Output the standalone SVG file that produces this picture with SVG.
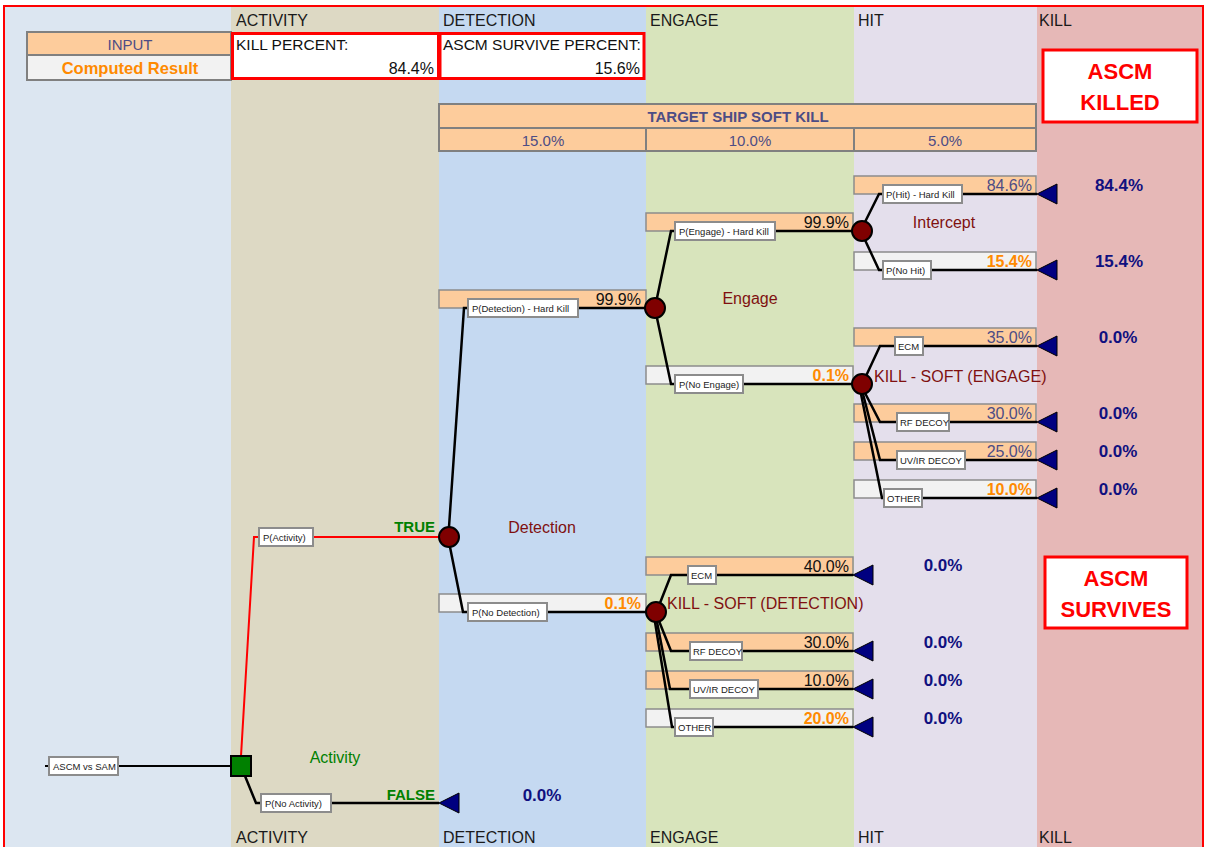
<svg xmlns="http://www.w3.org/2000/svg" width="1209" height="847" viewBox="0 0 1209 847">
<defs>
<style>
text{font-family:"Liberation Sans",Arial,sans-serif}
.hdr{font-size:16px;fill:#1a1a1a}
.bo{fill:#FDCC9C;stroke:#8C8C8C;stroke-width:1.5}
.bg{fill:#F2F2F2;stroke:#8C8C8C;stroke-width:1.5}
.lr{fill:#fff;stroke:#8C8C8C;stroke-width:2}
.lt{font-size:9.5px;fill:#222}
.ln{stroke:#000;stroke-width:2.5;fill:none}
.ch{fill:#7F0000;stroke:#000;stroke-width:2}
.tm{fill:#000080;stroke:#000;stroke-width:1}
.pk{font-size:16px;text-anchor:end;fill:#111}
.ps{font-size:16px;text-anchor:end;fill:#4D4D85}
.po{font-size:16px;text-anchor:end;fill:#FF8A00;font-weight:bold}
.val{font-size:17px;font-weight:bold;fill:#10107F;text-anchor:middle}
.dr{font-size:16px;fill:#7F1010}
.tf{font-size:15px;font-weight:bold;fill:#008000;text-anchor:end}
.big{font-size:22px;font-weight:bold;fill:#FF0000;text-anchor:middle}
</style>
</defs>
<rect x="0" y="0" width="1209" height="847" fill="#fff"/>
<g id="columns">
<rect x="4" y="6" width="227" height="841" fill="#DCE6F1"/>
<rect x="231" y="6" width="208" height="841" fill="#DDD9C4"/>
<rect x="439" y="6" width="207" height="841" fill="#C5D9F1"/>
<rect x="646" y="6" width="208" height="841" fill="#D8E4BC"/>
<rect x="854" y="6" width="183" height="841" fill="#E4DFEC"/>
<rect x="1037" y="6" width="166" height="841" fill="#E6B8B7"/>
<polyline points="4,847 4,6 1203,6 1203,847" fill="none" stroke="#FF0000" stroke-width="2"/>
</g>
<g id="headers">
<text x="236" y="26" class="hdr">ACTIVITY</text>
<text x="443" y="26" class="hdr">DETECTION</text>
<text x="650" y="26" class="hdr">ENGAGE</text>
<text x="858" y="26" class="hdr">HIT</text>
<text x="1039" y="26" class="hdr">KILL</text>
<text x="236" y="843" class="hdr">ACTIVITY</text>
<text x="443" y="843" class="hdr">DETECTION</text>
<text x="650" y="843" class="hdr">ENGAGE</text>
<text x="858" y="843" class="hdr">HIT</text>
<text x="1039" y="843" class="hdr">KILL</text>
</g>
<g id="input-table">
<rect x="27" y="32" width="204" height="23" fill="#FDCC9C" stroke="#808080" stroke-width="2"/>
<rect x="27" y="55" width="204" height="25" fill="#F2F2F2" stroke="#808080" stroke-width="2"/>
<text x="130" y="50" font-size="15" fill="#4D4D85" text-anchor="middle">INPUT</text>
<text x="130" y="74" font-size="16.5" font-weight="bold" fill="#FF8A00" text-anchor="middle">Computed Result</text>
</g>
<g id="kill-percent">
<rect x="232.5" y="33.5" width="206" height="45" fill="#fff" stroke="#FF0000" stroke-width="3"/>
<text x="236" y="50" font-size="15.5" fill="#111">KILL PERCENT:</text>
<text x="434" y="74" class="pk">84.4%</text>
</g>
<g id="survive-percent">
<rect x="440" y="33.5" width="204" height="45" fill="#fff" stroke="#FF0000" stroke-width="3"/>
<text x="443" y="50" font-size="15.5" fill="#111">ASCM SURVIVE PERCENT:</text>
<text x="640" y="74" class="pk">15.6%</text>
</g>
<g id="ascm-killed">
<rect x="1043" y="50" width="154" height="72" fill="#fff" stroke="#FF0000" stroke-width="3"/>
<text x="1120" y="79" class="big">ASCM</text>
<text x="1120" y="110" class="big">KILLED</text>
</g>
<g id="ascm-survives">
<rect x="1045" y="557" width="142" height="71" fill="#fff" stroke="#FF0000" stroke-width="3"/>
<text x="1116" y="586" class="big">ASCM</text>
<text x="1116" y="617" class="big">SURVIVES</text>
</g>
<g id="soft-kill-table">
<rect x="439" y="104" width="597" height="24" fill="#FDCC9C" stroke="#808080" stroke-width="2"/>
<rect x="439" y="128" width="207" height="23" fill="#FDCC9C" stroke="#808080" stroke-width="2"/>
<rect x="646" y="128" width="208" height="23" fill="#FDCC9C" stroke="#808080" stroke-width="2"/>
<rect x="854" y="128" width="182" height="23" fill="#FDCC9C" stroke="#808080" stroke-width="2"/>
<text x="738" y="122" font-size="15" font-weight="bold" fill="#4D4D85" text-anchor="middle">TARGET SHIP SOFT KILL</text>
<text x="543" y="146" font-size="15" fill="#4D4D85" text-anchor="middle">15.0%</text>
<text x="750" y="146" font-size="15" fill="#4D4D85" text-anchor="middle">10.0%</text>
<text x="945" y="146" font-size="15" fill="#4D4D85" text-anchor="middle">5.0%</text>
</g>
<g id="bars">
<rect x="439" y="290" width="207" height="18" class="bo"/>
<rect x="439" y="594" width="207" height="18" class="bg"/>
<rect x="646" y="213" width="207" height="18" class="bo"/>
<rect x="646" y="366" width="207" height="18" class="bg"/>
<rect x="646" y="557" width="207" height="18" class="bo"/>
<rect x="646" y="633" width="207" height="18" class="bo"/>
<rect x="646" y="671" width="207" height="18" class="bo"/>
<rect x="646" y="709" width="207" height="18" class="bg"/>
<rect x="854" y="176" width="182" height="18" class="bo"/>
<rect x="854" y="252" width="182" height="18" class="bg"/>
<rect x="854" y="328" width="182" height="18" class="bo"/>
<rect x="854" y="404" width="182" height="18" class="bo"/>
<rect x="854" y="442" width="182" height="18" class="bo"/>
<rect x="854" y="480" width="182" height="18" class="bg"/>
</g>
<g id="connectors">
<line x1="45" y1="766" x2="231" y2="766" stroke="#000" stroke-width="2"/>
<polyline points="241,756 254,537 440,537" fill="none" stroke="#FF0000" stroke-width="2"/>
<polyline points="245,776 256,803 439,803" class="ln"/>
<polyline points="449,527 464,308 645,308" class="ln"/>
<polyline points="450,547 463,612 646,612" class="ln"/>
<polyline points="657,298 671,231 852,231" class="ln"/>
<polyline points="657,318 671,384 852,384" class="ln"/>
<polyline points="660,603 671,575 853,575" class="ln"/>
<polyline points="659,621 671,651 853,651" class="ln"/>
<polyline points="657,622 670,689 853,689" class="ln"/>
<polyline points="655,622 672,727 853,727" class="ln"/>
<polyline points="865,222 879,194 1037,194" class="ln"/>
<polyline points="865,240 879,270 1037,270" class="ln"/>
<polyline points="866,376 880,346 1037,346" class="ln"/>
<polyline points="865,393 880,422 1037,422" class="ln"/>
<polyline points="863,394 880,460 1037,460" class="ln"/>
<polyline points="861,394 882,498 1037,498" class="ln"/>
</g>
<g id="root">
<rect x="49" y="757" width="69" height="18" class="lr"/>
<text x="53" y="769.5" class="lt">ASCM vs SAM</text>
</g>
<g id="decision-activity">
<rect x="231" y="756" width="20" height="20" fill="#008000" stroke="#000" stroke-width="2"/>
<text x="335" y="763" font-size="16" fill="#008000" text-anchor="middle">Activity</text>
</g>
<g id="b-activity">
<rect x="259" y="528" width="54" height="18" class="lr"/>
<text x="263" y="540.5" class="lt">P(Activity)</text>
<text x="435" y="532" class="tf">TRUE</text>
</g>
<g id="b-no-activity">
<rect x="261" y="794" width="70" height="18" class="lr"/>
<text x="265" y="806.5" class="lt">P(No Activity)</text>
<text x="435" y="800" class="tf">FALSE</text>
</g>
<g id="t-no-activity">
<polygon points="439,803 459,793 459,813" class="tm"/>
<text x="542" y="801" class="val">0.0%</text>
</g>
<g id="chance-detection">
<circle cx="449" cy="537" r="10" class="ch"/>
<text x="542" y="533" class="dr" text-anchor="middle">Detection</text>
</g>
<g id="b-detection-hard">
<rect x="468" y="299" width="110" height="18" class="lr"/>
<text x="472" y="311.5" class="lt">P(Detection) - Hard Kill</text>
<text x="641" y="305" class="pk">99.9%</text>
</g>
<g id="b-no-detection">
<rect x="468" y="603" width="79" height="18" class="lr"/>
<text x="472" y="615.5" class="lt">P(No Detection)</text>
<text x="641" y="609" class="po">0.1%</text>
</g>
<g id="chance-engage">
<circle cx="655" cy="308" r="10" class="ch"/>
<text x="750" y="304" class="dr" text-anchor="middle">Engage</text>
</g>
<g id="b-engage-hard">
<rect x="675" y="222" width="100" height="18" class="lr"/>
<text x="679" y="234.5" class="lt">P(Engage) - Hard Kill</text>
<text x="849" y="228" class="pk">99.9%</text>
</g>
<g id="b-no-engage">
<rect x="675" y="375" width="68" height="18" class="lr"/>
<text x="679" y="387.5" class="lt">P(No Engage)</text>
<text x="849" y="381" class="po">0.1%</text>
</g>
<g id="chance-soft-detection">
<circle cx="656" cy="612" r="10" class="ch"/>
<text x="667" y="609" class="dr">KILL - SOFT (DETECTION)</text>
</g>
<g id="b-sd-ecm">
<rect x="688" y="566" width="28" height="18" class="lr"/>
<text x="691" y="578.5" class="lt">ECM</text>
<text x="849" y="572" class="pk">40.0%</text>
</g>
<g id="b-sd-rf">
<rect x="690" y="642" width="52" height="18" class="lr"/>
<text x="693" y="654.5" class="lt">RF DECOY</text>
<text x="849" y="648" class="pk">30.0%</text>
</g>
<g id="b-sd-uvir">
<rect x="690" y="680" width="68" height="18" class="lr"/>
<text x="693" y="692.5" class="lt">UV/IR DECOY</text>
<text x="849" y="686" class="pk">10.0%</text>
</g>
<g id="b-sd-other">
<rect x="675" y="718" width="38" height="18" class="lr"/>
<text x="678" y="730.5" class="lt">OTHER</text>
<text x="849" y="724" class="po">20.0%</text>
</g>
<g id="t-sd-ecm"><polygon points="853,575 873,565 873,585" class="tm"/><text x="943" y="571" class="val">0.0%</text></g>
<g id="t-sd-rf"><polygon points="853,651 873,641 873,661" class="tm"/><text x="943" y="648" class="val">0.0%</text></g>
<g id="t-sd-uvir"><polygon points="853,689 873,679 873,699" class="tm"/><text x="943" y="686" class="val">0.0%</text></g>
<g id="t-sd-other"><polygon points="853,727 873,717 873,737" class="tm"/><text x="943" y="724" class="val">0.0%</text></g>
<g id="chance-intercept">
<circle cx="862" cy="231" r="10" class="ch"/>
<text x="944" y="228" class="dr" text-anchor="middle">Intercept</text>
</g>
<g id="b-hit">
<rect x="883" y="185" width="79" height="18" class="lr"/>
<text x="886" y="197.5" class="lt">P(Hit) - Hard Kill</text>
<text x="1032" y="191" class="ps">84.6%</text>
</g>
<g id="b-no-hit">
<rect x="883" y="261" width="48" height="18" class="lr"/>
<text x="886" y="273.5" class="lt">P(No Hit)</text>
<text x="1032" y="267" class="po">15.4%</text>
</g>
<g id="t-hit"><polygon points="1037,194 1057,184 1057,204" class="tm"/><text x="1119" y="191" class="val">84.4%</text></g>
<g id="t-no-hit"><polygon points="1037,270 1057,260 1057,280" class="tm"/><text x="1119" y="267" class="val">15.4%</text></g>
<g id="chance-soft-engage">
<circle cx="862" cy="384" r="10" class="ch"/>
<text x="874" y="382" class="dr">KILL - SOFT (ENGAGE)</text>
</g>
<g id="b-se-ecm">
<rect x="895" y="337" width="28" height="18" class="lr"/>
<text x="898" y="349.5" class="lt">ECM</text>
<text x="1032" y="343" class="ps">35.0%</text>
</g>
<g id="b-se-rf">
<rect x="897" y="413" width="52" height="18" class="lr"/>
<text x="900" y="425.5" class="lt">RF DECOY</text>
<text x="1032" y="419" class="ps">30.0%</text>
</g>
<g id="b-se-uvir">
<rect x="897" y="451" width="68" height="18" class="lr"/>
<text x="900" y="463.5" class="lt">UV/IR DECOY</text>
<text x="1032" y="457" class="ps">25.0%</text>
</g>
<g id="b-se-other">
<rect x="884" y="489" width="38" height="18" class="lr"/>
<text x="887" y="501.5" class="lt">OTHER</text>
<text x="1032" y="495" class="po">10.0%</text>
</g>
<g id="t-se-ecm"><polygon points="1037,346 1057,336 1057,356" class="tm"/><text x="1118" y="343" class="val">0.0%</text></g>
<g id="t-se-rf"><polygon points="1037,422 1057,412 1057,432" class="tm"/><text x="1118" y="419" class="val">0.0%</text></g>
<g id="t-se-uvir"><polygon points="1037,460 1057,450 1057,470" class="tm"/><text x="1118" y="457" class="val">0.0%</text></g>
<g id="t-se-other"><polygon points="1037,498 1057,488 1057,508" class="tm"/><text x="1118" y="495" class="val">0.0%</text></g>
</svg>
